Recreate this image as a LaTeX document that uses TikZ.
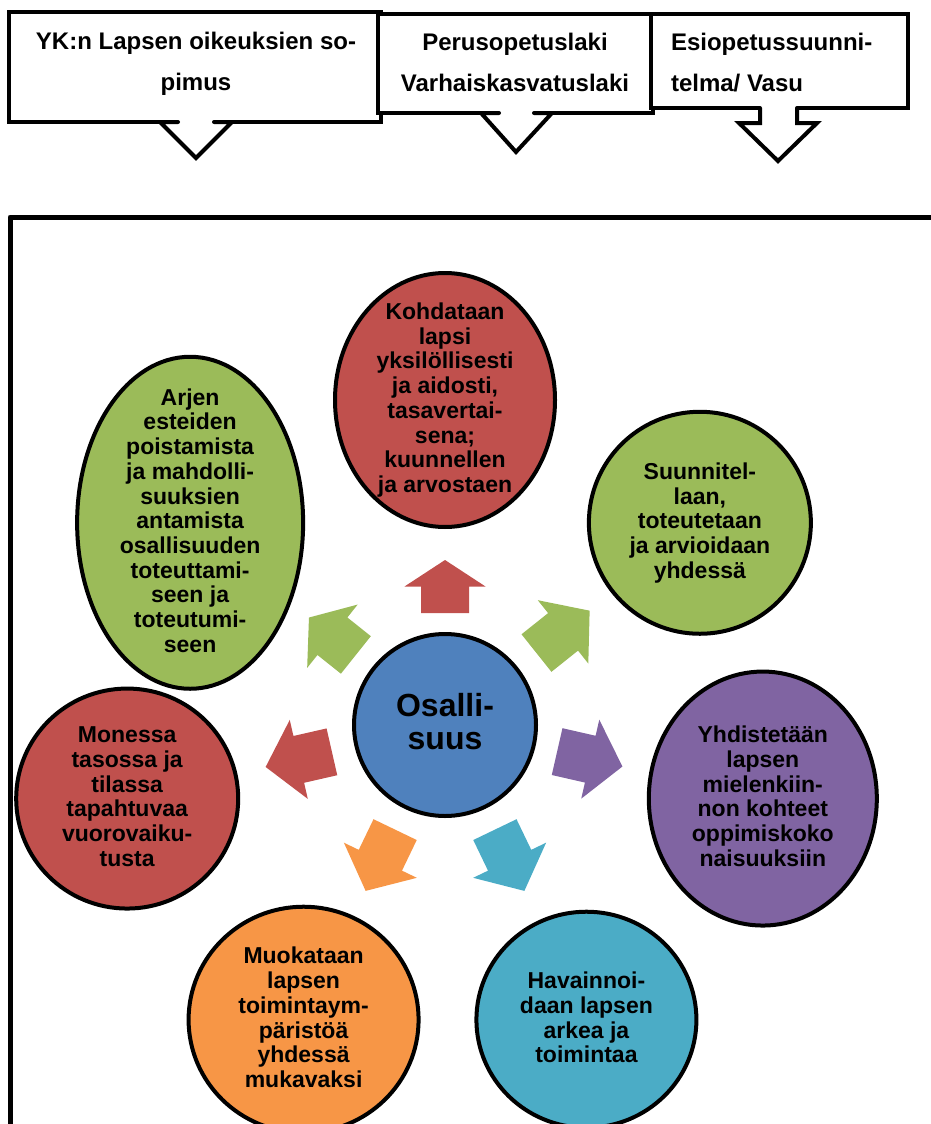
\documentclass[tikz,border=0pt]{standalone}
\usepackage{fontspec}
\setmainfont{Liberation Sans}
\usetikzlibrary{shapes.geometric,calc}

\definecolor{cRed}{HTML}{C0504D}
\definecolor{cGreen}{HTML}{9BBB59}
\definecolor{cPurple}{HTML}{8064A2}
\definecolor{cAqua}{HTML}{4BACC6}
\definecolor{cOrange}{HTML}{F79646}
\definecolor{cBlue}{HTML}{4F81BD}

% struts that fix the height of the first line and the depth of the last one
\newcommand\tsr{\rule{0pt}{17pt}}
\newcommand\bsr{\rule[-5pt]{0pt}{5pt}}

% block arrow radiating from the hub: angle, base distance, shaft length, head length, colour
\newcommand\radarrow[5]{%
  \begin{scope}[shift={(C)}, rotate=#1]
    \fill[#5] (#2,-24) -- ({#2+#3},-24) -- ({#2+#3},-40.5) -- ({#2+#3+#4},0)
      -- ({#2+#3},40.5) -- ({#2+#3},24) -- (#2,24) -- cycle;
  \end{scope}}

\begin{document}
\begin{tikzpicture}[x=1pt,y=-1pt,
  every node/.style={inner sep=0pt, outer sep=0pt},
  bubble/.style={ellipse, draw=black, line width=4pt, inner sep=0pt},
  bubbletext/.style={align=center, font=\fontsize{23}{24.7}\selectfont\bfseries, text=black},
  callout/.style={draw=black, fill=white, line width=4pt, line join=miter, anchor=north west},
  calltext/.style={font=\fontsize{24}{41}\selectfont\bfseries, text=black},
  pointer/.style={draw=black, line width=4pt, line cap=round, line join=miter},
]
\useasboundingbox (0,0) rectangle (931,1124);

% ---- legal basis callouts ----
\node[callout, minimum width=372pt, minimum height=110pt] (b1) at (9,12) {};
\node[callout, minimum width=275pt, minimum height=99pt] (b2) at (378,14) {};
\node[callout, minimum width=257pt, minimum height=94pt] (b3) at (651,14) {};

\node[calltext, align=center] (t1) at (196,64) {\tsr YK:n Lapsen oikeuksien so-\\pimus\bsr};
\node[calltext, align=center] (t2) at (515,65) {\tsr Perusopetuslaki\\Varhaiskasvatuslaki\bsr};
\node[calltext, align=left, anchor=west] (t3) at (671,65) {\tsr Esiopetussuunni-\\telma/ Vasu\bsr};

% pointers below the callouts
\fill[white] (178,116) rectangle (214,127);
\draw[pointer] (178,122) -- (160,122) -- (196,158) -- (232,122) -- (214,122);
\fill[white] (499,107) rectangle (534,118);
\draw[pointer] (499,113) -- (481,113) -- (516,152) -- (552,113) -- (534,113);
\fill[white] (760,103) rectangle (797,112);
\draw[pointer] (760,108) -- (760,123) -- (739,123) -- (778,161) -- (817,123) -- (797,123) -- (797,108);

% ---- frame ----
\draw[line width=5pt, line join=round] (10,1135) -- (10,217) -- (945,217);

% ---- radial diagram ----
\coordinate (C) at (445,726);

\radarrow{90}{113}{26.5}{26.5}{cRed}
\radarrow{38.57}{117}{34}{34}{cGreen}
\radarrow{-12.86}{115}{34}{33}{cPurple}
\radarrow{-64.29}{115}{34}{34}{cAqua}
\radarrow{-115.71}{115}{34}{34}{cOrange}
\radarrow{-167.14}{116}{34}{34}{cRed}
\radarrow{141.43}{114}{30}{30}{cGreen}

\node[bubble, fill=cRed, minimum width=220pt, minimum height=254pt] (s1) at ($(C)+(-90:326)$) {};
\node[bubble, fill=cGreen, minimum width=222pt, minimum height=222pt] (s2) at ($(C)+(-38.57:326)$) {};
\node[bubble, fill=cPurple, minimum width=228pt, minimum height=254pt] (s3) at ($(C)+(12.86:326)$) {};
\node[bubble, fill=cAqua, minimum width=220pt, minimum height=216pt] (s4) at ($(C)+(64.29:326)$) {};
\node[bubble, fill=cOrange, minimum width=230pt, minimum height=226pt] (s5) at ($(C)+(115.71:326)$) {};
\node[bubble, fill=cRed, minimum width=222pt, minimum height=220pt] (s6) at ($(C)+(167.14:326)$) {};
\node[bubble, fill=cGreen, minimum width=226pt, minimum height=332pt] (s7) at ($(C)+(218.57:326)$) {};

\node[bubbletext] (l1) at (s1) {\tsr Kohdataan\\lapsi\\yksilöllisesti\\ja aidosti,\\tasavertai-\\sena;\\kuunnellen\\ja arvostaen\bsr};
\node[bubbletext] (l2) at (s2) {\tsr Suunnitel-\\laan,\\toteutetaan\\ja arvioidaan\\yhdessä\bsr};
\node[bubbletext] (l3) at (s3) {\tsr Yhdistetään\\lapsen\\mielenkiin-\\non kohteet\\oppimiskoko\\naisuuksiin\bsr};
\node[bubbletext] (l4) at (s4) {\tsr Havainnoi-\\daan lapsen\\arkea ja\\toimintaa\bsr};
\node[bubbletext] (l5) at (s5) {\tsr Muokataan\\lapsen\\toimintaym-\\päristöä\\yhdessä\\mukavaksi\bsr};
\node[bubbletext] (l6) at (s6) {\tsr Monessa\\tasossa ja\\tilassa\\tapahtuvaa\\vuorovaiku-\\tusta\bsr};
\node[bubbletext] (l7) at (s7) {\tsr Arjen\\esteiden\\poistamista\\ja mahdolli-\\suuksien\\antamista\\osallisuuden\\toteuttami-\\seen ja\\toteutumi-\\seen\bsr};

\node[bubble, fill=cBlue, minimum size=182pt] (hub) at (445,725) {};
\node[align=center, font=\fontsize{32}{33.5}\selectfont\bfseries] (hubtext) at (hub)
  {\rule{0pt}{23pt}Osalli-\\suus\rule[-7pt]{0pt}{7pt}};
\end{tikzpicture}
\end{document}
